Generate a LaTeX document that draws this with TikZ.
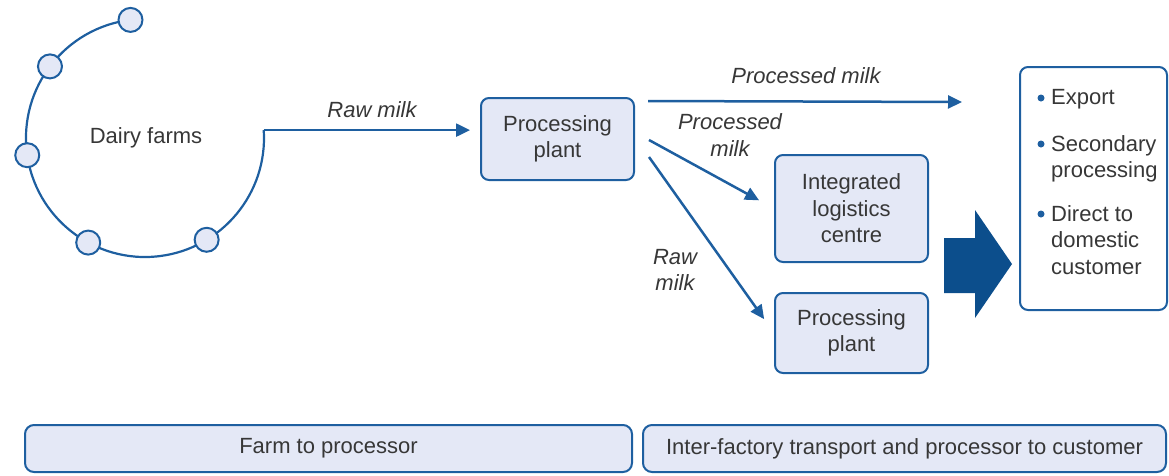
\documentclass[tikz,border=0pt]{standalone}
\usepackage{fontspec}
\setmainfont{Liberation Sans}
\usetikzlibrary{arrows.meta,calc}
\definecolor{lineblue}{RGB}{30,95,160}
\definecolor{boxfill}{RGB}{228,232,246}
\definecolor{arrowblue}{RGB}{12,78,140}
\definecolor{txt}{RGB}{55,55,55}
\begin{document}
\begin{tikzpicture}[x=1pt,y=-1pt,
  every node/.style={font=\fontsize{22}{26.5}\selectfont, text=txt},
  flowbox/.style={draw=lineblue, line width=2pt, fill=boxfill, rounded corners=8pt, align=center, inner sep=0pt},
  farm/.style={circle, draw=lineblue, line width=2pt, fill=boxfill, minimum size=24pt, inner sep=0pt},
  flow/.style={draw=lineblue, line width=2.5pt, -{Triangle[length=14pt,width=13pt]}},
  lbl/.style={font=\fontsize{22}{26.5}\selectfont\itshape, align=center},
  item/.style={anchor=north west, align=left, inner sep=0pt},
  phase/.style={draw=lineblue, line width=2pt, fill=boxfill, rounded corners=9pt, inner sep=0pt, minimum height=47pt}]
\useasboundingbox (0,0) rectangle (1169,475);
% dairy farms
\coordinate (fc) at (145,138);
\draw[lineblue, line width=2.2pt] ($(fc)+(263:119)$) arc[start angle=97, end angle=363.8, radius=119pt] coordinate (farmend);
\node[farm] (f1) at ($(fc)+(263:119)$) {};
\node[farm] (f2) at ($(fc)+(217:119)$) {};
\node[farm] (f3) at ($(fc)+(171.7:119)$) {};
\node[farm] (f4) at ($(fc)+(118.5:119)$) {};
\node[farm] (f5) at ($(fc)+(58.8:119)$) {};
\node (farms) at (146,138) {Dairy farms};
% boxes
\node[flowbox, minimum width=153pt, minimum height=82pt] (pp1) at (557.5,139) {Processing\\plant};
\node[flowbox, minimum width=153pt, minimum height=107pt] (ilc) at (851.5,208.5) {Integrated\\logistics\\centre};
\node[flowbox, minimum width=153pt, minimum height=80pt] (pp2) at (851.5,333) {Processing\\plant};
\node[draw=lineblue, line width=2pt, fill=white, rounded corners=8pt, minimum width=147pt, minimum height=243pt, inner sep=0pt] (dest) at (1093.5,188.5) {};
% connectors
\draw[flow, shorten >=10pt] (farmend) -- (farmend -| pp1.west);
\node[lbl] (lraw1) at (372,110) {Raw milk};
\coordinate (s1) at ($(pp1.north east)+(13,4)$);
\coordinate (e1) at (962,102);
\draw[flow] (s1) -- (e1);
\node[lbl] (lproc1) at (806,76) {Processed milk};
\coordinate (s2) at ($(pp1.east)+(14,1)$);
\draw[flow, shorten >=17pt] (s2) -- (ilc.west);
\node[lbl] (lproc2) at (730,135) {Processed\\milk};
\coordinate (s3) at ($(pp1.east)+(14,18)$);
\draw[flow, shorten >=17pt] (s3) -- (pp2.west);
\node[lbl] (lraw2) at (675,270) {Raw\\milk};
% big arrow
\fill[arrowblue] (944,238) -- (975,238) -- (975,210) -- (1012,264) -- (975,318) -- (975,293) -- (944,293) -- cycle;
% destinations
\fill[lineblue] (1041,98) circle (3.5pt);
\node[item] (i1) at (1051,89) {Export};
\fill[lineblue] (1041,144) circle (3.5pt);
\node[item] (i2) at (1051,135) {Secondary\\processing};
\fill[lineblue] (1041,214) circle (3.5pt);
\node[item] (i3) at (1051,205) {Direct to\\domestic\\customer};
% phases
\node[phase, minimum width=607pt] (ph1) at (328.5,448.5) {Farm to processor};
\node[phase, minimum width=523pt] (ph2) at (904.5,448.5) {Inter-factory transport and processor to customer};
\end{tikzpicture}
\end{document}
